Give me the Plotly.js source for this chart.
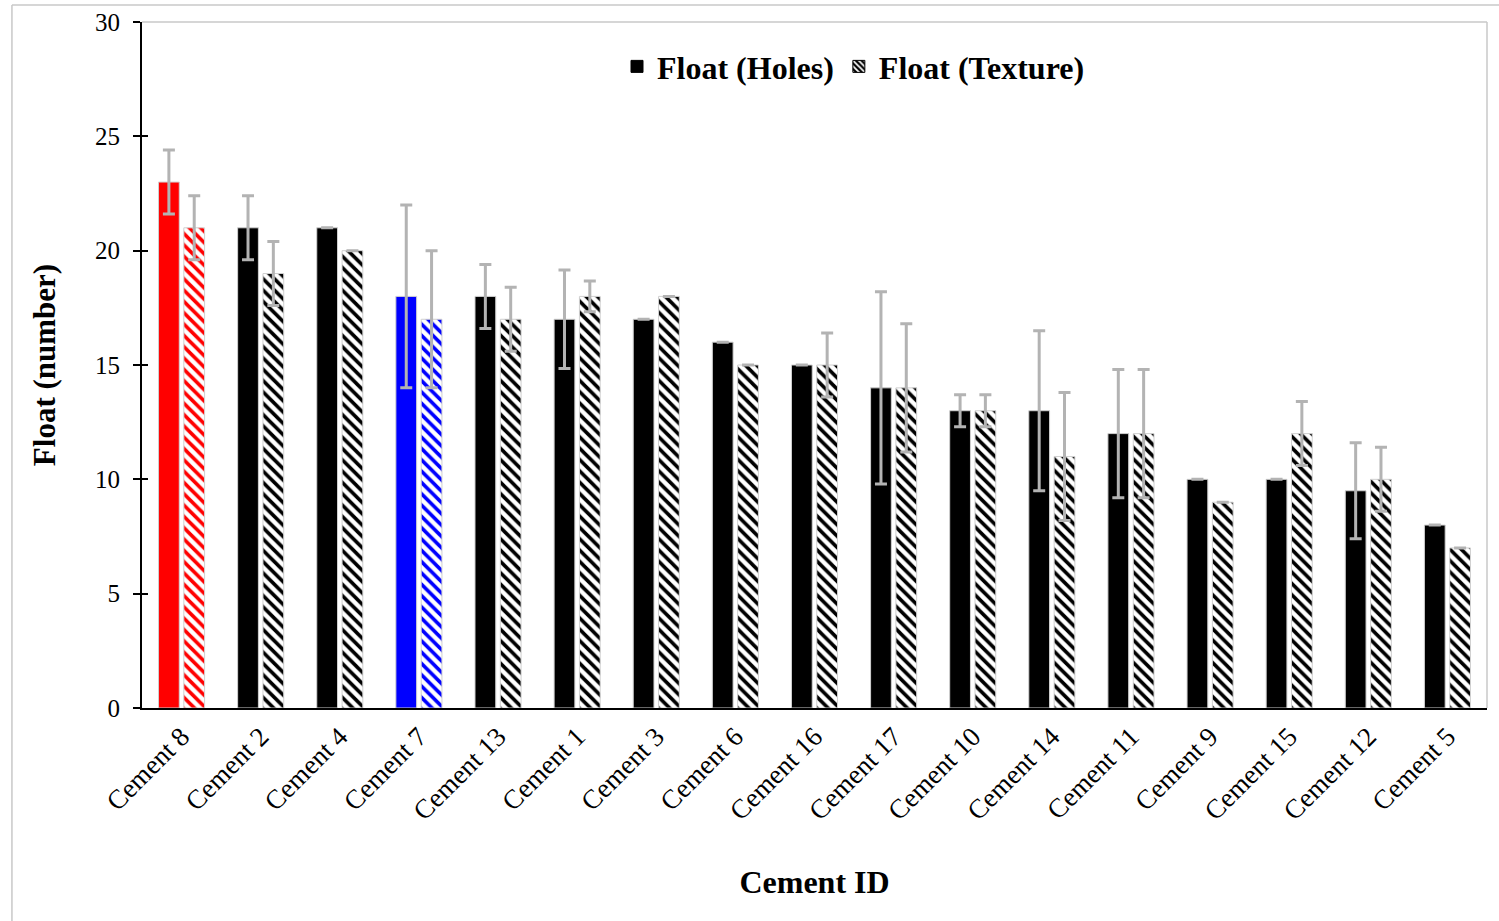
<!DOCTYPE html>
<html>
<head>
<meta charset="utf-8">
<script src="https://cdn.plot.ly/plotly-3.0.1.min.js"></script>
<style>html,body{margin:0;padding:0;background:#fff;}#chart{width:1499px;height:921px;}</style>
</head>
<body>
<div id="chart"></div>
<script>
var categories = ["Cement 8","Cement 2","Cement 4","Cement 7","Cement 13","Cement 1","Cement 3","Cement 6","Cement 16","Cement 17","Cement 10","Cement 14","Cement 11","Cement 9","Cement 15","Cement 12","Cement 5"];
var holesValues = [23, 21, 21, 18, 18, 17, 17, 16, 15, 14, 13, 13, 12, 10, 10, 9.5, 8];
var holesErrors = [1.4, 1.4, 0, 4, 1.4, 2.15, 0, 0, 0, 4.2, 0.7, 3.5, 2.8, 0, 0, 2.1, 0];
var textureValues = [21, 19, 20, 17, 17, 18, 18, 15, 15, 14, 13, 11, 12, 9, 12, 10, 7];
var textureErrors = [1.4, 1.4, 0, 3, 1.4, 0.67, 0, 0, 1.4, 2.8, 0.7, 2.8, 2.8, 0, 1.4, 1.4, 0];
var barColors = ["#ff0000","#000000","#000000","#0000ff","#000000","#000000","#000000","#000000","#000000","#000000","#000000","#000000","#000000","#000000","#000000","#000000","#000000"];
var seriesNames = ["Float (Holes)", "Float (Texture)"];
var yTicks = [0, 5, 10, 15, 20, 25, 30];

var font = "Liberation Serif, Times New Roman, serif";
var errStyle = {type: "data", visible: true, color: "#b3b3b3", thickness: 3, width: 6};
var stripe = {shape: "\\", fgcolor: "#ffffff", size: 8, solidity: 0.45, fillmode: "replace"};

var traces = [
  {
    type: "bar", name: seriesNames[0], x: categories, y: holesValues, offsetgroup: "h", showlegend: false,
    marker: {color: barColors, line: {color: "#d0d0d0", width: 1}},
    error_y: Object.assign({array: holesErrors}, errStyle)
  },
  {
    type: "bar", name: seriesNames[1], x: categories, y: textureValues, offsetgroup: "t", showlegend: false,
    marker: {color: barColors, line: {color: "#d0d0d0", width: 1},
      pattern: Object.assign({bgcolor: barColors}, stripe)},
    error_y: Object.assign({array: textureErrors}, errStyle)
  },
  {
    type: "bar", name: seriesNames[0], x: [categories[0]], y: [null], offsetgroup: "h", showlegend: true,
    marker: {color: "#000000", line: {color: "#000000", width: 1}}, hoverinfo: "skip"
  },
  {
    type: "bar", name: seriesNames[1], x: [categories[0]], y: [null], offsetgroup: "t", showlegend: true,
    marker: {color: "#000000", line: {color: "#000000", width: 1},
      pattern: Object.assign({bgcolor: "#000000"}, stripe, {size: 5})}, hoverinfo: "skip"
  },
  {
    type: "scatter", x: [categories[0]], y: [0], yaxis: "y2", mode: "markers",
    marker: {opacity: 0}, showlegend: false, hoverinfo: "skip"
  }
];

var layout = {
  width: 1499, height: 921,
  margin: {l: 142, r: 12, t: 22, b: 213},
  paper_bgcolor: "#ffffff", plot_bgcolor: "#ffffff",
  font: {family: font, color: "#000000", size: 24},
  barmode: "group", bargap: 0.36, bargroupgap: 0.18,
  showlegend: true,
  legend: {
    orientation: "h", x: 0.529, xanchor: "center", y: 0.935, yanchor: "middle",
    font: {family: font, size: 32, color: "#000000", weight: "bold"},
    bgcolor: "rgba(0,0,0,0)", itemwidth: 30, traceorder: "normal", itemgap: 24
  },
  xaxis: {
    type: "category", categoryorder: "array", categoryarray: categories,
    range: [-0.5, categories.length - 0.5],
    showline: true, linecolor: "#000000", linewidth: 2,
    ticks: "", tickangle: -45, tickfont: {family: font, size: 27, color: "#000000"},
    showgrid: false, zeroline: false,
    title: {text: "Cement ID", font: {family: font, size: 32, weight: "bold"}, standoff: 46}
  },
  yaxis: {
    range: [0, 30], tickvals: yTicks, ticktext: yTicks.map(String),
    showline: true, linecolor: "#000000", linewidth: 2,
    ticks: "outside", ticklen: 7, tickwidth: 2, tickcolor: "#000000",
    ticklabelstandoff: 8,
    tickfont: {family: font, size: 25, color: "#000000"},
    showgrid: false, zeroline: false,
    title: {text: "Float (number)", font: {family: font, size: 31, weight: "bold"}, standoff: 30}
  },
  yaxis2: {
    overlaying: "y", side: "left", anchor: "x", range: [0, 30], tickvals: yTicks,
    ticks: "inside", ticklen: 6, tickwidth: 2, tickcolor: "#000000",
    showticklabels: false, showline: false, showgrid: false, zeroline: false
  },
  shapes: [
    {type: "line", xref: "paper", yref: "paper", x0: 0, x1: 1, y0: 1, y1: 1, line: {color: "#c8c8c8", width: 1.5}},
    {type: "line", xref: "paper", yref: "paper", x0: 1, x1: 1, y0: 0, y1: 1, line: {color: "#c8c8c8", width: 1.5}},
    {type: "line", xref: "paper", yref: "paper", x0: -0.0967, x1: 1.01, y0: 1.0248, y1: 1.0248, line: {color: "#c8c8c8", width: 1.5}},
    {type: "line", xref: "paper", yref: "paper", x0: -0.0967, x1: -0.0967, y0: -0.32, y1: 1.0248, line: {color: "#c8c8c8", width: 1.5}}
  ]
};

Plotly.newPlot("chart", traces, layout, {displayModeBar: false, staticPlot: true});
</script>
</body>
</html>
